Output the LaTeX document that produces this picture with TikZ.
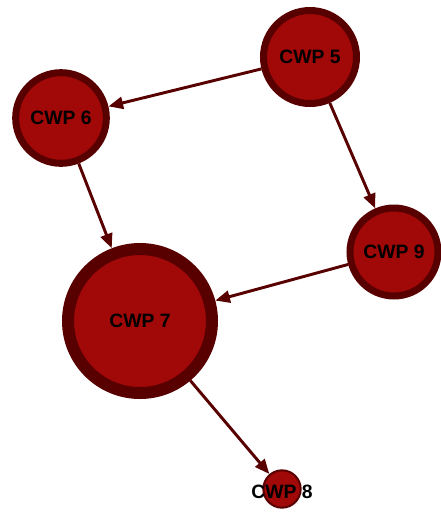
\documentclass[tikz,border=0pt]{standalone}
\usepackage{fontspec}
\setmainfont{Liberation Sans}
\usetikzlibrary{arrows.meta}

\definecolor{cwpred}{RGB}{161,8,8}
\definecolor{cwpdark}{RGB}{88,0,0}

\tikzset{
  cwpfont/.style={font=\fontsize{14.5}{15}\selectfont\bfseries},
  cwp/.style={circle, fill=cwpred, draw=cwpdark, inner sep=0pt, cwpfont},
  link/.style={draw=cwpdark, line width=2.2pt,
    -{Triangle[length=11pt,width=9pt]}}
}

\begin{document}
\begin{tikzpicture}[x=0.75pt,y=-0.75pt]
			\useasboundingbox (0,0) rectangle (441,512);
			\node[cwp, line width=5.25pt, minimum size=69.75pt] (c5) at (310,57) {CWP 5};
			\node[cwp, line width=5.25pt, minimum size=68pt] (c6) at (61,118) {CWP 6};
			\node[cwp, line width=9pt, minimum size=108pt] (c7) at (140,321) {CWP 7};
			\node[cwp, line width=1.5pt, minimum size=28pt,
				label={[cwpfont, yshift=-2pt]center:CWP 8}] (c8) at (282,489) {};
			\node[cwp, line width=5.25pt, minimum size=66pt] (c9) at (394,252) {CWP 9};
			\draw[link] (c5) -- (c6);
			\draw[link] (c6) -- (c7);
			\draw[link] (c5) -- (c9);
			\draw[link] (c9) -- (c7);
			\draw[link] (c7) -- (c8);
			\end{tikzpicture}
\end{document}
